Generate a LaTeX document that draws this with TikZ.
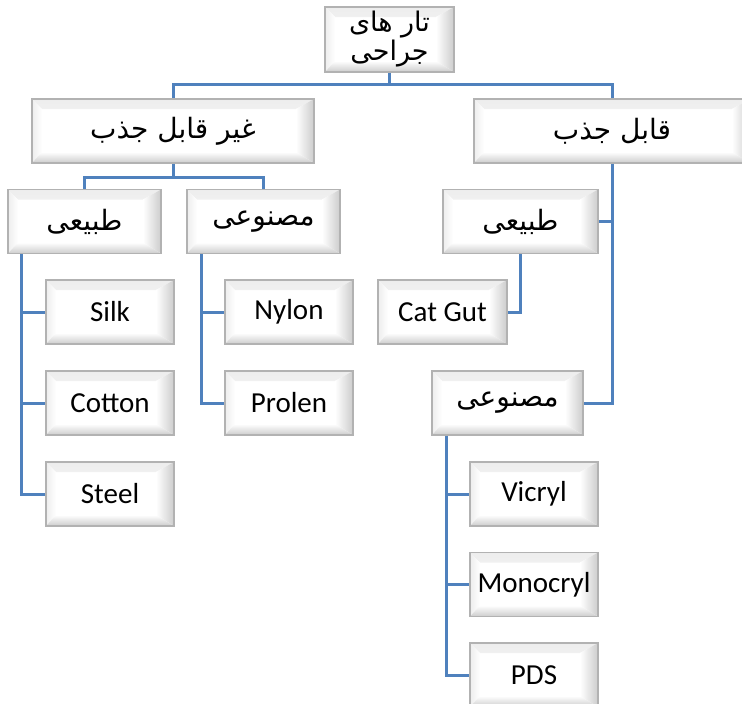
\documentclass[tikz,border=0pt]{standalone}
\usepackage{fontspec}
\setmainfont{Carlito}
\newfontfamily\arabicfont[Script=Arabic]{DejaVu Sans}
\TeXXeTstate=1
\definecolor{connc}{RGB}{79,129,189}
\begin{document}
\begin{tikzpicture}[x=1pt,y=-1pt,
 bev/.style={minimum width=#1, minimum height=64pt, inner sep=0pt, fill=white,
   draw=gray!60, line width=1.5pt, font=\fontsize{29}{34}\selectfont,
   path picture={
     \shade[top color=gray!14, bottom color=white]
       (path picture bounding box.north west) -- (path picture bounding box.north east)
       -- ([shift={(-18,10)}]path picture bounding box.north east)
       -- ([shift={(10,10)}]path picture bounding box.north west) -- cycle;
     \shade[left color=gray!14, right color=white]
       (path picture bounding box.north west) -- ([shift={(10,10)}]path picture bounding box.north west)
       -- ([shift={(10,-11)}]path picture bounding box.south west)
       -- (path picture bounding box.south west) -- cycle;
     \shade[left color=white, right color=gray!40]
       (path picture bounding box.north east) -- ([shift={(-18,10)}]path picture bounding box.north east)
       -- ([shift={(-18,-11)}]path picture bounding box.south east)
       -- (path picture bounding box.south east) -- cycle;
     \shade[top color=white, bottom color=gray!40]
       (path picture bounding box.south west) -- ([shift={(10,-11)}]path picture bounding box.south west)
       -- ([shift={(-18,-11)}]path picture bounding box.south east)
       -- (path picture bounding box.south east) -- cycle;
   }},
 bev/.default=128pt,
 ar/.style={font=\arabicfont\fontsize{28}{32}\selectfont},
 conn/.style={draw=connc, line width=3pt}]
\useasboundingbox (0,0) rectangle (742,704);
\clip (0,0) rectangle (742,704);
% root
\node[bev=129pt, minimum height=65pt, align=center,
      font=\arabicfont\fontsize{27}{29}\selectfont] (root) at (389.5,39.5)
  {\beginR تار های\endR\\\beginR جراحی\endR};
% level 1
\node[bev=282pt, ar] (L) at (173,131) {\beginR غیر قابل جذب\endR};
\node[bev=276pt, ar] (R) at (612,131) {\beginR قابل جذب\endR};
% level 2
\node[bev=153pt, ar] (LN) at (84.5,221.5) {\beginR طبیعی\endR};
\node[bev=153pt, ar] (LS) at (263.5,221.5) {\beginR مصنوعی\endR};
\node[bev=155pt, ar] (RN) at (520.5,221.5) {\beginR طبیعی\endR};
\node[bev=151pt, ar] (RS) at (507.5,403) {\beginR مصنوعی\endR};
% leaves
\node[bev=128pt] (Silk) at (110,312) {Silk};
\node[bev=128pt] (Cotton) at (110,403) {Cotton};
\node[bev=128pt] (Steel) at (110,494) {Steel};
\node[bev=128pt] (Nylon) at (289,312) {Nylon};
\node[bev=128pt] (Prolen) at (289,403) {Prolen};
\node[bev=129pt] (CatGut) at (442.5,312) {Cat Gut};
\node[bev=128pt] (Vicryl) at (534,494) {Vicryl};
\node[bev=128pt] (Monocryl) at (534,584.5) {Monocryl};
\node[bev=128pt] (PDS) at (534,675) {PDS};
% connectors
\draw[conn] (root.south) -- ++(0,12) coordinate (t) -| (L.north);
\draw[conn] (t) -| (R.north);
\draw[conn] (L.south) -- ++(0,14) coordinate (lt) -| (LN.north);
\draw[conn] (lt) -| (LS.north);
\draw[conn] ([xshift=14pt]LN.south west) |- (Silk.west);
\draw[conn] ([xshift=14pt]LN.south west) |- (Cotton.west);
\draw[conn] ([xshift=14pt]LN.south west) |- (Steel.west);
\draw[conn] ([xshift=15pt]LS.south west) |- (Nylon.west);
\draw[conn] ([xshift=15pt]LS.south west) |- (Prolen.west);
\draw[conn] (R.south) |- (RN.east);
\draw[conn] (R.south) |- (RS.east);
\draw[conn] (RN.south) |- (CatGut.east);
\draw[conn] ([xshift=15pt]RS.south west) |- (Vicryl.west);
\draw[conn] ([xshift=15pt]RS.south west) |- (Monocryl.west);
\draw[conn] ([xshift=15pt]RS.south west) |- (PDS.west);
\end{tikzpicture}
\end{document}
